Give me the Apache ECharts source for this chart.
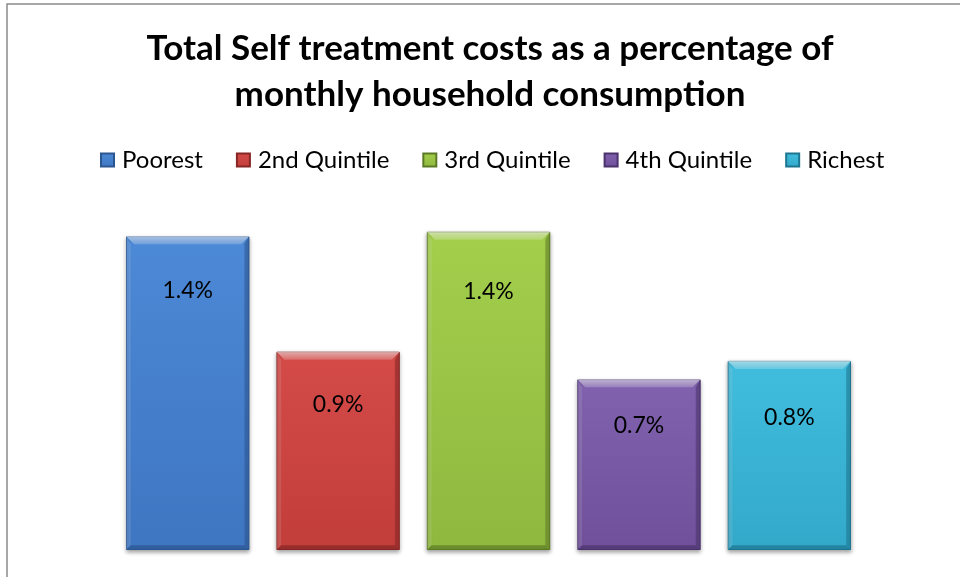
<!DOCTYPE html>
<html>
<head>
<meta charset="utf-8">
<title>Total Self treatment costs</title>
<script src="https://cdn.jsdelivr.net/npm/echarts@6/dist/echarts.min.js"></script>
<style>
  html, body { margin: 0; padding: 0; background: #ffffff; }
  #chart { width: 960px; height: 577px; }
</style>
</head>
<body>
<div id="chart"></div>
<script>
// Self treatment cost share of monthly household consumption, by quintile (%)
const categories = ['Quintile'];
const seriesNames = ['Poorest', '2nd Quintile', '3rd Quintile', '4th Quintile', 'Richest'];
const values = [1.36, 0.86, 1.38, 0.74, 0.82];
const titleLines = ['Total Self treatment costs as a percentage of', 'monthly household consumption'];

// base, light and dark tones per quintile
const palette = [
  { base: '#3f76c2', light: '#4c89d6', dark: '#2b5690' },
  { base: '#c23e3b', light: '#d44b48', dark: '#862725' },
  { base: '#8fb83f', light: '#a3cf4c', dark: '#5c7a24' },
  { base: '#70509b', light: '#8062ae', dark: '#4a336c' },
  { base: '#33a9ca', light: '#40bddd', dark: '#1d7590' }
];
// how far each value label sits below its bar top, in pixels
const labelDistance = [43, 41, 48, 35, 45];

const BAR_GAP = 0.22;   // gap between neighbouring bars, as a share of bar width
const BEVEL = 8;        // bevel depth in pixels

function barFill(c) {
  return new echarts.graphic.LinearGradient(0, 0, 0, 1, [
    { offset: 0, color: c.light },
    { offset: 1, color: c.base }
  ]);
}

const chart = echarts.init(document.getElementById('chart'), null, { renderer: 'canvas' });

const barSeries = seriesNames.map((name, i) => ({
  name: name,
  type: 'bar',
  data: [values[i]],
  barGap: (BAR_GAP * 100) + '%',
  barCategoryGap: 0,
  itemStyle: {
    color: barFill(palette[i]),
    borderColor: palette[i].dark,
    borderWidth: 1,
    shadowColor: 'rgba(0,0,0,0.35)',
    shadowBlur: 4,
    shadowOffsetY: 2
  },
  label: {
    show: true,
    position: 'insideTop',
    distance: labelDistance[i],
    color: '#000000',
    fontFamily: 'Lato, "Open Sans", sans-serif',
    fontSize: 23,
    formatter: p => p.value.toFixed(1) + '%'
  },
  emphasis: { disabled: true }
}));

// Bevelled edges laid over each bar, placed with the same axis scale
const n = seriesNames.length;
const bevelSeries = {
  type: 'custom',
  silent: true,
  z: 3,
  data: values.map((v, i) => [0, v, i]),
  renderItem: function (params, api) {
    const v = api.value(1);
    const i = api.value(2);
    const topPt = api.coord([0, v]);
    const basePt = api.coord([0, 0]);
    const band = api.size([1, 0])[0];
    const w = band / (n + (n - 1) * BAR_GAP);
    const cx = topPt[0] + (i - (n - 1) / 2) * w * (1 + BAR_GAP);
    const x0 = cx - w / 2, x1 = cx + w / 2;
    const y0 = topPt[1], y1 = basePt[1];
    const b = BEVEL;
    const c = palette[i];
    const poly = (pts, fill) => ({ type: 'polygon', shape: { points: pts }, style: { fill: fill } });
    return {
      type: 'group',
      children: [
        poly([[x0, y0], [x1, y0], [x1 - b, y0 + b], [x0 + b, y0 + b]],
          new echarts.graphic.LinearGradient(0, 0, 0, 1, [
            { offset: 0, color: 'rgba(255,255,255,0.55)' },
            { offset: 1, color: 'rgba(255,255,255,0.2)' }
          ])),
        poly([[x0, y0], [x0 + b * 0.6, y0 + b], [x0 + b * 0.6, y1 - b * 0.6], [x0, y1]], 'rgba(255,255,255,0.12)'),
        poly([[x1, y0], [x1, y1], [x1 - b * 0.6, y1 - b * 0.6], [x1 - b * 0.6, y0 + b]], echarts.color.modifyAlpha(c.dark, 0.55)),
        poly([[x0, y1], [x1, y1], [x1 - b * 0.6, y1 - b * 0.6], [x0 + b * 0.6, y1 - b * 0.6]], echarts.color.modifyAlpha(c.dark, 0.7))
      ]
    };
  }
};

chart.setOption({
  animation: false,
  backgroundColor: '#ffffff',
  graphic: [{
    type: 'rect',
    shape: { x: 7, y: 4, width: 1000, height: 1000 },
    style: { fill: 'none', stroke: '#8a8a8a', lineWidth: 1.5 },
    silent: true
  }],
  title: {
    text: titleLines.join('\n'),
    left: 485,
    textAlign: 'center',
    top: 21,
    textStyle: {
      fontFamily: 'Lato, "Open Sans", sans-serif',
      fontWeight: 'bold',
      fontSize: 35,
      lineHeight: 46,
      color: '#000000'
    }
  },
  legend: {
    data: seriesNames,
    top: 143,
    left: 95,
    icon: 'rect',
    itemWidth: 13,
    itemHeight: 13,
    itemGap: 33,
    textStyle: {
      fontFamily: 'Lato, "Open Sans", sans-serif',
      fontSize: 24,
      color: '#000000',
      padding: [0, 0, 0, 3]
    }
  },
  grid: { left: 126, width: 725, top: 181, bottom: 27, containLabel: false },
  xAxis: { type: 'category', data: categories, show: false },
  yAxis: { type: 'value', min: 0, max: 1.6, show: false },
  series: barSeries.concat([bevelSeries])
});
</script>
</body>
</html>
